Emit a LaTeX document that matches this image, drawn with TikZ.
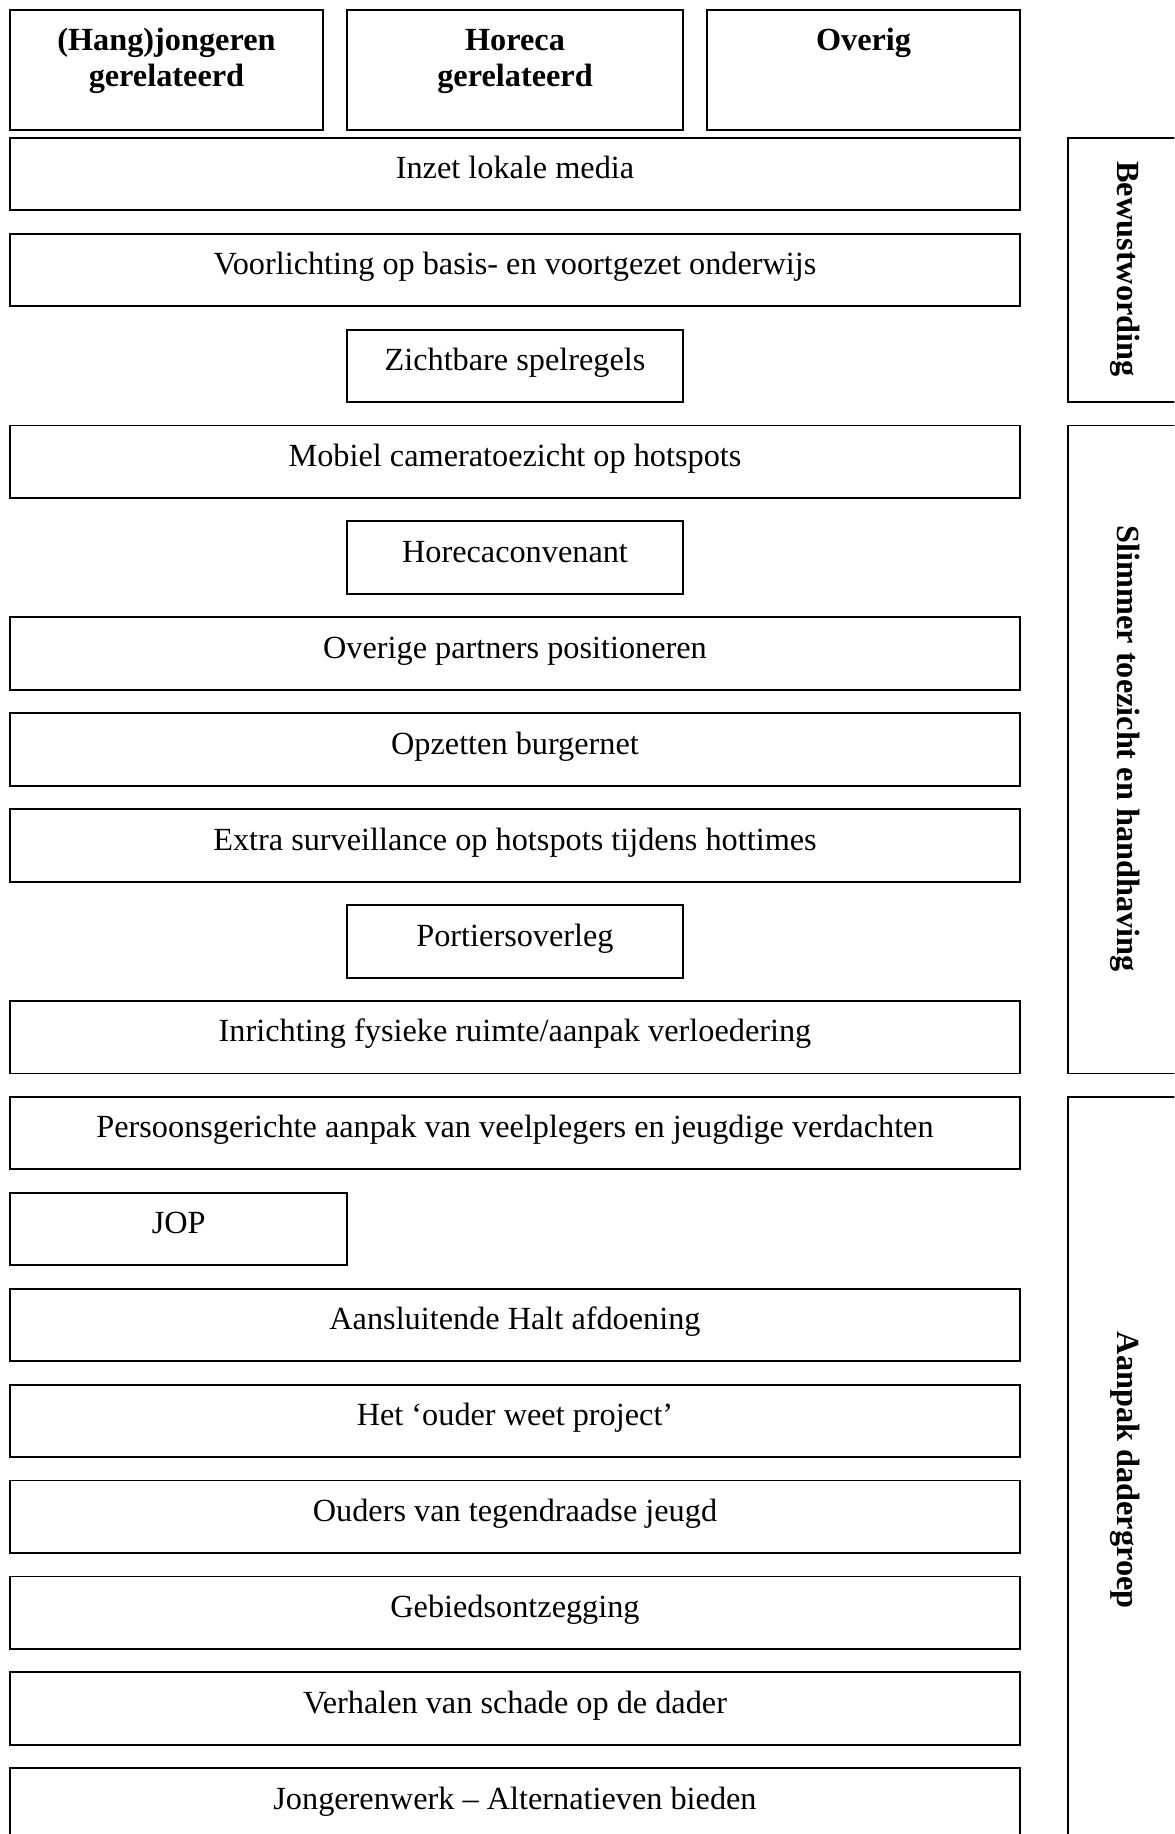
\documentclass[tikz,border=0pt]{standalone}
\usepackage{fontspec}
\setmainfont{Liberation Serif}

\begin{document}
\begin{tikzpicture}[x=0.5pt,y=-0.5pt,
  box/.style={draw, line width=0.8pt, inner sep=0pt, anchor=north west,
    text height=17.5pt, text depth=13.5pt, font=\fontsize{13.8}{16}\selectfont},
  wide/.style={box, minimum width=431.5pt},
  short/.style={box, minimum width=143.5pt},
  headbox/.style={draw, line width=0.8pt, inner sep=0pt, anchor=north west, minimum height=51pt},
  headtxt/.style={inner sep=0pt, anchor=north, align=center, font=\bfseries\fontsize{13.8}{15.4}\selectfont},
  sidebox/.style={draw, line width=0.8pt, inner sep=0pt, anchor=north west, minimum width=59pt},
  sidetxt/.style={inner sep=0pt, rotate=-90, font=\bfseries\fontsize{13.8}{16}\selectfont}]

\useasboundingbox (0,0) rectangle (1004,1568);
\clip (0,0) rectangle (1004,1568);

%%%%%%%%%%%%%%%%%%%%%%%%%%%%%%%
% kolommen
\node[headbox, minimum width=133.5pt] (hang) at (8,8) {};
\node[headbox, minimum width=143.5pt] (horec) at (296,8) {};
\node[headbox, minimum width=133.5pt] (overig) at (604,8) {};

\node[headtxt] (hangtxt) at ([yshift=-6.7pt]hang.north) {\strut(Hang)jongeren\\gerelateerd};
\node[headtxt] (horectxt) at ([yshift=-6.7pt]horec.north) {\strut Horeca\\gerelateerd};
\node[headtxt] (overigtxt) at ([yshift=-6.7pt]overig.north) {\strut Overig};

%%%%%%%%%%%%%%%%%%%%%%%%%%%%%%%
% maatregelen
\node[wide] (inzet) at (8,117) {Inzet lokale media};
\node[wide] (voorl) at (8,199) {Voorlichting op basis- en voortgezet onderwijs};
\node[short] (spelr) at (296,281) {Zichtbare spelregels};
\node[wide] (camera) at (8,363) {Mobiel cameratoezicht op hotspots};
\node[short] (horeca) at (296,445) {Horecaconvenant};
\node[wide] (partners) at (8,527) {Overige partners positioneren};
\node[wide] (burgernet) at (8,609) {Opzetten burgernet};
\node[wide] (surv) at (8,691) {Extra surveillance op hotspots tijdens hottimes};
\node[short] (portier) at (296,773) {Portiersoverleg};
\node[wide] (inricht) at (8,855) {Inrichting fysieke ruimte/aanpak verloedering};
\node[wide] (persoon) at (8,937) {Persoonsgerichte aanpak van veelplegers en jeugdige verdachten};
\node[box, minimum width=144pt] (jop) at (8,1019) {JOP};
\node[wide] (halt) at (8,1101) {Aansluitende Halt afdoening};
\node[wide] (ouderweet) at (8,1183) {Het ‘ouder weet project’};
\node[wide] (ouders) at (8,1265) {Ouders van tegendraadse jeugd};
\node[wide] (gebied) at (8,1347) {Gebiedsontzegging};
\node[wide] (schade) at (8,1429) {Verhalen van schade op de dader};
\node[wide] (jongwerk) at (8,1511) {Jongerenwerk -- Alternatieven bieden};

%%%%%%%%%%%%%%%%%%%%%%%%%%%%%%%
% pijlers
\node[sidebox, minimum height=113pt] (bewust) at (912,117) {};
\node[sidebox, minimum height=277pt] (toezicht) at (912,363) {};
\node[sidebox, minimum height=320pt] (dader) at (912,937) {};

\node[sidetxt] (bewusttxt) at (962,230) {Bewustwording};
\node[sidetxt] (toezichttxt) at (962,640) {Slimmer toezicht en handhaving};
\node[sidetxt] (dadertxt) at (962,1257) {Aanpak dadergroep};
\end{tikzpicture}
\end{document}
